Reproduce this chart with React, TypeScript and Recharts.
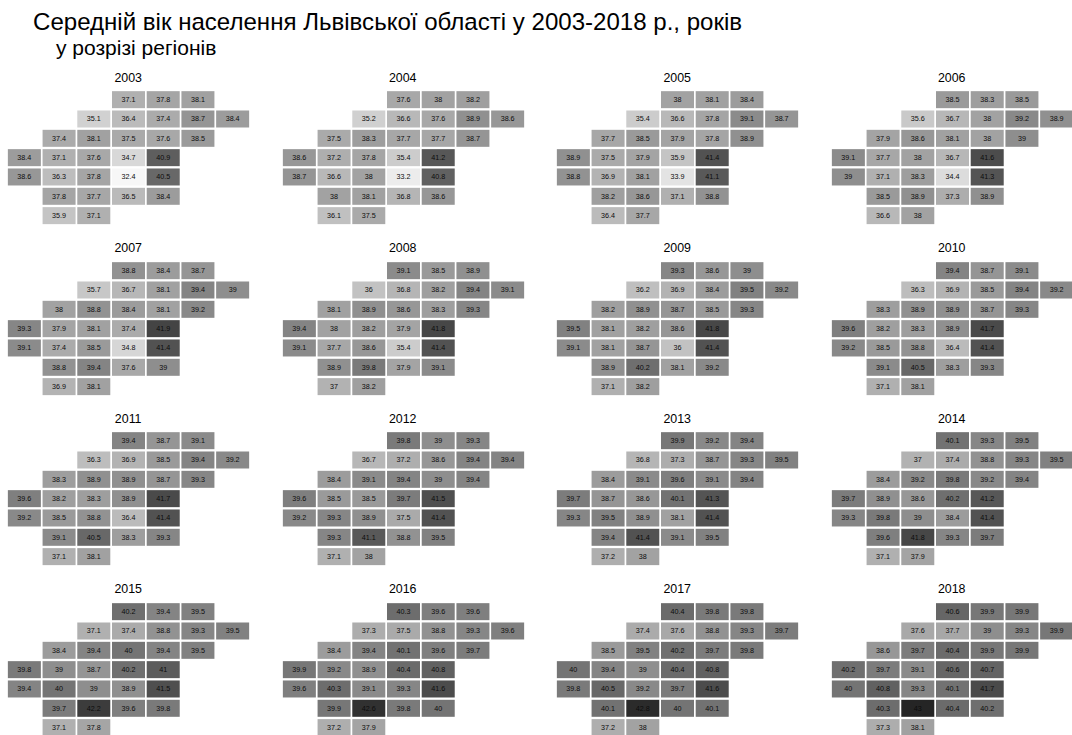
import React from "react";
import { ScatterChart, Scatter, XAxis, YAxis } from "recharts";

const FONT = '"Liberation Sans", Arial, sans-serif';

// tile grid of the oblast, one entry per region, same order in every year
const tileCols = [
  3, 4, 5,
  2, 3, 4, 5, 6,
  1, 2, 3, 4, 5,
  0, 1, 2, 3, 4,
  0, 1, 2, 3, 4,
  1, 2, 3, 4,
  1, 2,
];
const tileRows = [
  0, 0, 0,
  1, 1, 1, 1, 1,
  2, 2, 2, 2, 2,
  3, 3, 3, 3, 3,
  4, 4, 4, 4, 4,
  5, 5, 5, 5,
  6, 6,
];

const values2003 = [37.1, 37.8, 38.1, 35.1, 36.4, 37.4, 38.7, 38.4, 37.4, 38.1, 37.5, 37.6, 38.5, 38.4, 37.1, 37.6, 34.7, 40.9, 38.6, 36.3, 37.8, 32.4, 40.5, 37.8, 37.7, 36.5, 38.4, 35.9, 37.1];
const values2004 = [37.6, 38, 38.2, 35.2, 36.6, 37.6, 38.9, 38.6, 37.5, 38.3, 37.7, 37.7, 38.7, 38.6, 37.2, 37.8, 35.4, 41.2, 38.7, 36.6, 38, 33.2, 40.8, 38, 38.1, 36.8, 38.6, 36.1, 37.5];
const values2005 = [38, 38.1, 38.4, 35.4, 36.6, 37.8, 39.1, 38.7, 37.7, 38.5, 37.9, 37.8, 38.9, 38.9, 37.5, 37.9, 35.9, 41.4, 38.8, 36.9, 38.1, 33.9, 41.1, 38.2, 38.6, 37.1, 38.8, 36.4, 37.7];
const values2006 = [38.5, 38.3, 38.5, 35.6, 36.7, 38, 39.2, 38.9, 37.9, 38.6, 38.1, 38, 39, 39.1, 37.7, 38, 36.7, 41.6, 39, 37.1, 38.3, 34.4, 41.3, 38.5, 38.9, 37.3, 38.9, 36.6, 38];
const values2007 = [38.8, 38.4, 38.7, 35.7, 36.7, 38.1, 39.4, 39, 38, 38.8, 38.4, 38.1, 39.2, 39.3, 37.9, 38.1, 37.4, 41.9, 39.1, 37.4, 38.5, 34.8, 41.4, 38.8, 39.4, 37.6, 39, 36.9, 38.1];
const values2008 = [39.1, 38.5, 38.9, 36, 36.8, 38.2, 39.4, 39.1, 38.1, 38.9, 38.6, 38.3, 39.3, 39.4, 38, 38.2, 37.9, 41.8, 39.1, 37.7, 38.6, 35.4, 41.4, 38.9, 39.8, 37.9, 39.1, 37, 38.2];
const values2009 = [39.3, 38.6, 39, 36.2, 36.9, 38.4, 39.5, 39.2, 38.2, 38.9, 38.7, 38.5, 39.3, 39.5, 38.1, 38.2, 38.6, 41.8, 39.1, 38.1, 38.7, 36, 41.4, 38.9, 40.2, 38.1, 39.2, 37.1, 38.2];
const values2010 = [39.4, 38.7, 39.1, 36.3, 36.9, 38.5, 39.4, 39.2, 38.3, 38.9, 38.9, 38.7, 39.3, 39.6, 38.2, 38.3, 38.9, 41.7, 39.2, 38.5, 38.8, 36.4, 41.4, 39.1, 40.5, 38.3, 39.3, 37.1, 38.1];
const values2011 = [39.4, 38.7, 39.1, 36.3, 36.9, 38.5, 39.4, 39.2, 38.3, 38.9, 38.9, 38.7, 39.3, 39.6, 38.2, 38.3, 38.9, 41.7, 39.2, 38.5, 38.8, 36.4, 41.4, 39.1, 40.5, 38.3, 39.3, 37.1, 38.1];
const values2012 = [39.8, 39, 39.3, 36.7, 37.2, 38.6, 39.4, 39.4, 38.4, 39.1, 39.4, 39, 39.4, 39.6, 38.5, 38.5, 39.7, 41.5, 39.2, 39.3, 38.9, 37.5, 41.4, 39.3, 41.1, 38.8, 39.5, 37.1, 38];
const values2013 = [39.9, 39.2, 39.4, 36.8, 37.3, 38.7, 39.3, 39.5, 38.4, 39.1, 39.6, 39.1, 39.4, 39.7, 38.7, 38.6, 40.1, 41.3, 39.3, 39.5, 38.9, 38.1, 41.4, 39.4, 41.4, 39.1, 39.5, 37.2, 38];
const values2014 = [40.1, 39.3, 39.5, 37, 37.4, 38.8, 39.3, 39.5, 38.4, 39.2, 39.8, 39.2, 39.4, 39.7, 38.9, 38.6, 40.2, 41.2, 39.3, 39.8, 39, 38.4, 41.4, 39.6, 41.8, 39.3, 39.7, 37.1, 37.9];
const values2015 = [40.2, 39.4, 39.5, 37.1, 37.4, 38.8, 39.3, 39.5, 38.4, 39.4, 40, 39.4, 39.5, 39.8, 39, 38.7, 40.2, 41, 39.4, 40, 39, 38.9, 41.5, 39.7, 42.2, 39.6, 39.8, 37.1, 37.8];
const values2016 = [40.3, 39.6, 39.6, 37.3, 37.5, 38.8, 39.3, 39.6, 38.4, 39.4, 40.1, 39.6, 39.7, 39.9, 39.2, 38.9, 40.4, 40.8, 39.6, 40.3, 39.1, 39.3, 41.6, 39.9, 42.6, 39.8, 40, 37.2, 37.9];
const values2017 = [40.4, 39.8, 39.8, 37.4, 37.6, 38.8, 39.3, 39.7, 38.5, 39.5, 40.2, 39.7, 39.8, 40, 39.4, 39, 40.4, 40.8, 39.8, 40.5, 39.2, 39.7, 41.6, 40.1, 42.8, 40, 40.1, 37.2, 38];
const values2018 = [40.6, 39.9, 39.9, 37.6, 37.7, 39, 39.3, 39.9, 38.6, 39.7, 40.4, 39.9, 39.9, 40.2, 39.7, 39.1, 40.6, 40.7, 40, 40.8, 39.3, 40.1, 41.7, 40.3, 43, 40.4, 40.2, 37.3, 38.1];

const years = [2003, 2004, 2005, 2006, 2007, 2008, 2009, 2010, 2011, 2012, 2013, 2014, 2015, 2016, 2017, 2018];
const valuesByYear = [
  values2003, values2004, values2005, values2006,
  values2007, values2008, values2009, values2010,
  values2011, values2012, values2013, values2014,
  values2015, values2016, values2017, values2018,
];

// grey ramp
const rampValues = [32.4, 34.7, 36, 37.1, 38.4, 39.4, 39.9, 40.5, 41.4, 42.2, 43];
const rampGreys = [247, 216, 194, 176, 156, 132, 119, 104, 82, 60, 37];

const greyFor = (v: number) => {
  let i = 0;
  while (i < rampValues.length - 2 && v > rampValues[i + 1]) i++;
  const t = (v - rampValues[i]) / (rampValues[i + 1] - rampValues[i]);
  const g = Math.round(rampGreys[i] + (rampGreys[i + 1] - rampGreys[i]) * t);
  return `rgb(${g},${g},${g})`;
};

const TILE_W = 33;
const TILE_H = 17;

const Tile = (props: any) => {
  const { cx, cy, x, y, width, height, payload } = props;
  const px = cx ?? x + width / 2;
  const py = cy ?? y + height / 2;
  return (
    <g>
      <rect x={px - TILE_W / 2} y={py - TILE_H / 2} width={TILE_W} height={TILE_H} fill={greyFor(payload.value)} />
      <text x={px} y={py + 2.5} textAnchor="middle" fontSize={7.2} fontFamily={FONT} fill="#0c0c0c">
        {payload.value}
      </text>
    </g>
  );
};

const Panel = ({ year, values, left, top }: { year: number; values: number[]; left: number; top: number }) => {
  const data = values.map((value, i) => ({ col: tileCols[i], row: tileRows[i], value }));
  return (
    <div style={{ position: "absolute", left, top }}>
      <div style={{ position: "absolute", left: -0.5, top: -19.5, width: 243, textAlign: "center", fontFamily: FONT, fontSize: 12.4, lineHeight: "14px", color: "#000" }}>
        {year}
      </div>
      <ScatterChart width={243} height={135.3} margin={{ top: 0, right: 0, bottom: 0, left: 0 }}>
        <XAxis type="number" dataKey="col" domain={[-0.5, 6.5]} hide />
        <YAxis type="number" dataKey="row" domain={[-0.5, 6.5]} reversed hide />
        <Scatter data={data} shape={Tile} isAnimationActive={false} />
      </ScatterChart>
    </div>
  );
};

export default function App() {
  return (
    <div style={{ position: "absolute", left: 0, top: 0, width: 1072, height: 735, overflow: "hidden", background: "#fff" }}>
      <div style={{ position: "absolute", left: 33, top: 8.5, fontFamily: FONT, fontSize: 24.07, lineHeight: "26px", whiteSpace: "nowrap", color: "#000" }}>
        Середній вік населення Львівської області у 2003-2018 р., років
      </div>
      <div style={{ position: "absolute", left: 56, top: 37, fontFamily: FONT, fontSize: 21, lineHeight: "21px", whiteSpace: "nowrap", color: "#000" }}>
        у розрізі регіонів
      </div>
      {years.map((year, i) => (
        <Panel
          key={year}
          year={year}
          values={valuesByYear[i]}
          left={7.2 + (i % 4) * 274.5}
          top={90 + Math.floor(i / 4) * 170.6}
        />
      ))}
    </div>
  );
}
